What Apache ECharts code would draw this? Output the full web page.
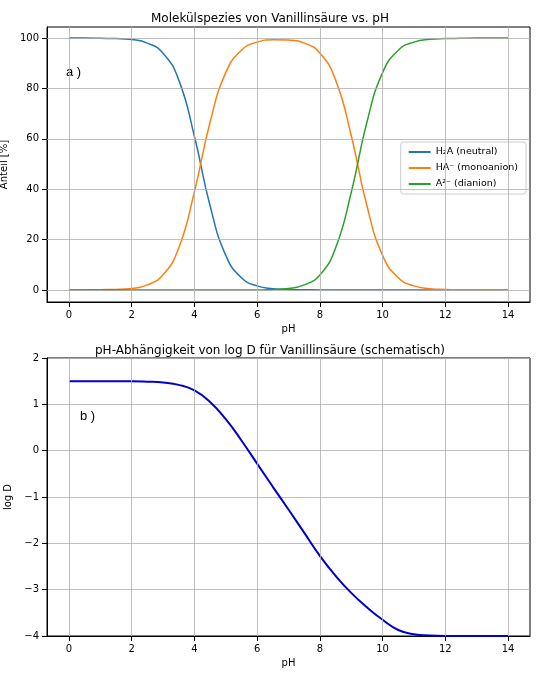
<!DOCTYPE html><html><head><meta charset="utf-8"><script src="https://cdn.jsdelivr.net/npm/echarts@6/dist/echarts.min.js"></script></head><body style="margin:0"><div id="c" style="width:540px;height:675px"></div><script>
const pH=[0,0.5,1,1.5,2,2.5,3,3.5,4,4.5,5,5.5,6,6.5,7,7.5,8,8.5,9,9.5,10,10.5,11,11.5,12,12.5,13,13.5,14];
const h2a=[100,100,99.9,99.8,99.4,98,94,83.4,61,33.4,13.7,4.8,1.6,0.5,0.16,0.05,0,0,0,0,0,0,0,0,0,0,0,0,0];
const ha=[0,0,0.1,0.2,0.6,2,6,16.6,39,66.6,86.3,95.2,98.4,99.3,99.2,98,94.1,83.4,61.3,33.4,13.7,4.8,1.6,0.5,0.2,0.05,0,0,0];
const a2=[0,0,0,0,0,0,0,0,0,0,0,0,0,0.2,0.6,2,5.9,16.6,38.7,66.6,86.3,95.2,98.4,99.5,99.8,99.9,100,100,100];
const logD=[1.5,1.5,1.5,1.5,1.5,1.49,1.47,1.42,1.3,1.05,0.68,0.22,-0.28,-0.78,-1.27,-1.77,-2.27,-2.7,-3.07,-3.38,-3.65,-3.87,-3.96,-3.99,-4,-4,-4,-4,-4];
const xt=[0,2,4,6,8,10,12,14], yta=[0,20,40,60,80,100];
const z=(a,b)=>a.map((v,i)=>[v,b[i]]);
const gl={color:'#b0b0b0',width:0.8};
const ax={color:'#000'};
const mlA={silent:true,symbol:'none',label:{show:false},lineStyle:Object.assign({type:'solid'},gl),data:[...xt.map(v=>({xAxis:v})),...yta.map(v=>({yAxis:v}))]};
const mlB={silent:true,symbol:'none',label:{show:false},lineStyle:Object.assign({type:'solid'},gl),data:xt.map(v=>({xAxis:v}))};
const xa=i=>({type:'value',gridIndex:i,min:-0.7,max:14.7,name:'pH',nameLocation:'middle',nameGap:22,nameTextStyle:{fontSize:10,color:'#000'},axisLine:{onZero:false,lineStyle:ax},axisTick:{customValues:xt,lineStyle:ax},axisLabel:{customValues:xt,color:'#000',fontSize:10},splitLine:{show:false}});
const c=echarts.init(document.getElementById('c'));
c.setOption({animation:false,textStyle:{fontFamily:'DejaVu Sans'},
title:[{text:'Molekülspezies von Vanillinsäure vs. pH',left:'center',top:8,textStyle:{fontSize:12,fontWeight:'normal',color:'#000'}},{text:'pH-Abhängigkeit von log D für Vanillinsäure (schematisch)',left:'center',top:340,textStyle:{fontSize:12,fontWeight:'normal',color:'#000'}}],
grid:[{left:47,right:10,top:27,height:275,show:true,borderColor:'#000',containLabel:false,outerBoundsMode:'none'},{left:47,right:10,top:358,height:278,show:true,borderColor:'#000',containLabel:false,outerBoundsMode:'none'}],
legend:{right:14,top:142,orient:'vertical',itemWidth:22,itemHeight:2,icon:'rect',borderColor:'#ccc',borderWidth:1,borderRadius:3,padding:[5,8],itemGap:6,textStyle:{fontSize:9.5,color:'#000'},data:['H₂A (neutral)','HA⁻ (monoanion)','A²⁻ (dianion)']},
xAxis:[xa(0),xa(1)],
yAxis:[{type:'value',gridIndex:0,min:-4.8,max:104.4,name:'Anteil [%]',nameLocation:'middle',nameGap:30,nameTextStyle:{fontSize:10,color:'#000'},axisLine:{show:true,onZero:false,lineStyle:ax},axisTick:{show:true,customValues:yta,lineStyle:ax},axisLabel:{customValues:yta,color:'#000',fontSize:10},splitLine:{show:false}},
{type:'value',gridIndex:1,min:-4,max:2,interval:1,name:'log D',nameLocation:'middle',nameGap:30,nameTextStyle:{fontSize:10,color:'#000'},axisLine:{show:true,onZero:false,lineStyle:ax},axisTick:{show:true,lineStyle:ax},axisLabel:{color:'#000',fontSize:10,formatter:v=>String(v).replace('-','−')},splitLine:{lineStyle:gl}}],
series:[
{name:'H₂A (neutral)',type:'line',smooth:true,symbol:'none',data:z(pH,h2a),color:'#1f77b4',lineStyle:{width:1.5},markLine:mlA},
{name:'HA⁻ (monoanion)',type:'line',smooth:true,symbol:'none',data:z(pH,ha),color:'#ff7f0e',lineStyle:{width:1.5}},
{name:'A²⁻ (dianion)',type:'line',smooth:true,symbol:'none',data:z(pH,a2),color:'#2ca02c',lineStyle:{width:1.5}},
{type:'line',xAxisIndex:1,yAxisIndex:1,smooth:true,symbol:'none',data:z(pH,logD),color:'#0000cc',lineStyle:{width:2},markLine:mlB}],
graphic:[{type:'text',left:66,top:66,style:{text:'a )',fontSize:13,fill:'#000'}},{type:'text',left:80,top:410,style:{text:'b )',fontSize:13,fill:'#000'}}]
});
</script></body></html>
